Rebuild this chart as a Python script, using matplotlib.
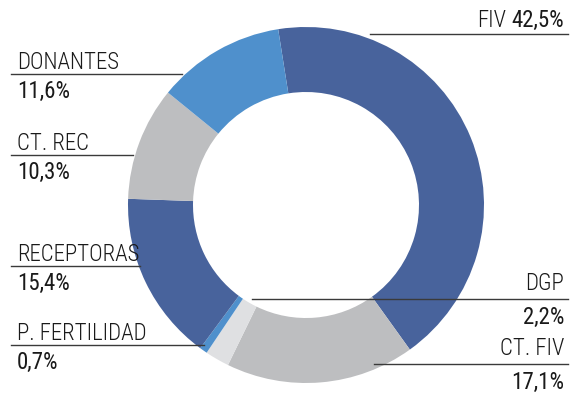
import matplotlib.pyplot as plt

categorias = ['FIV', 'CT. FIV', 'DGP', 'P. FERTILIDAD', 'RECEPTORAS', 'CT. REC', 'DONANTES']
porcentajes = [42.5, 17.1, 2.2, 0.7, 15.4, 10.3, 11.6]
colores = ['#48639c', '#bdbec0', '#dfe0e2', '#4f90cc', '#48639c', '#bdbec0', '#4f90cc']

W, H = 577, 394
fig = plt.figure(figsize=(W / 100, H / 100), dpi=100)
ax = fig.add_axes([0, 0, 1, 1])

# anillo
ax.pie(porcentajes, colors=colores, startangle=99, counterclock=False,
       center=(306, H - 205), radius=178, frame=True,
       wedgeprops=dict(width=65, linewidth=0))
ax.set_xlim(0, W)
ax.set_ylim(0, H)
ax.set_aspect('equal')
ax.axis('off')


def fmt(v):
    return f'{v:.1f}%'.replace('.', ',')


fuente = ['Roboto Condensed', 'Roboto', 'DejaVu Sans']
tam = 16.5
linea = '#3a3a3a'
txt = '#1a1a1a'

# (x0, x1 de la línea, y de la línea, lado)
etiquetas = {
    'FIV': (370, 568, 34, 'der_una'),
    'DONANTES': (11, 182, 74, 'izq'),
    'CT. REC': (11, 133, 155, 'izq'),
    'RECEPTORAS': (11, 140, 266, 'izq'),
    'P. FERTILIDAD': (11, 204, 345, 'izq'),
    'DGP': (252, 568, 299, 'der'),
    'CT. FIV': (374, 568, 364, 'der'),
}

for cat, val in zip(categorias, porcentajes):
    x0, x1, yl, lado = etiquetas[cat]
    ax.plot([x0, x1], [H - yl, H - yl], color=linea, lw=1.0, zorder=3)
    if lado == 'izq':
        ax.text(17, H - yl + 5, cat, ha='left', va='baseline', family=fuente,
                fontsize=tam, color=txt, weight='light')
        ax.text(17, H - yl - 24, fmt(val), ha='left', va='baseline', family=fuente,
                fontsize=tam, color=txt)
    elif lado == 'der':
        ax.text(564, H - yl + 9, cat, ha='right', va='baseline', family=fuente,
                fontsize=tam, color=txt, weight='light')
        ax.text(564, H - yl - 25, fmt(val), ha='right', va='baseline', family=fuente,
                fontsize=tam, color=txt)
    else:
        t = ax.text(564, H - yl + 7, fmt(val), ha='right', va='baseline', family=fuente,
                    fontsize=tam, color=txt)
        fig.canvas.draw()
        bb = t.get_window_extent().transformed(ax.transData.inverted())
        ax.text(bb.x0 - 5, H - yl + 7, cat, ha='right', va='baseline', family=fuente,
                fontsize=tam, color=txt, weight='light')

fig.savefig('out.png', dpi=100)
